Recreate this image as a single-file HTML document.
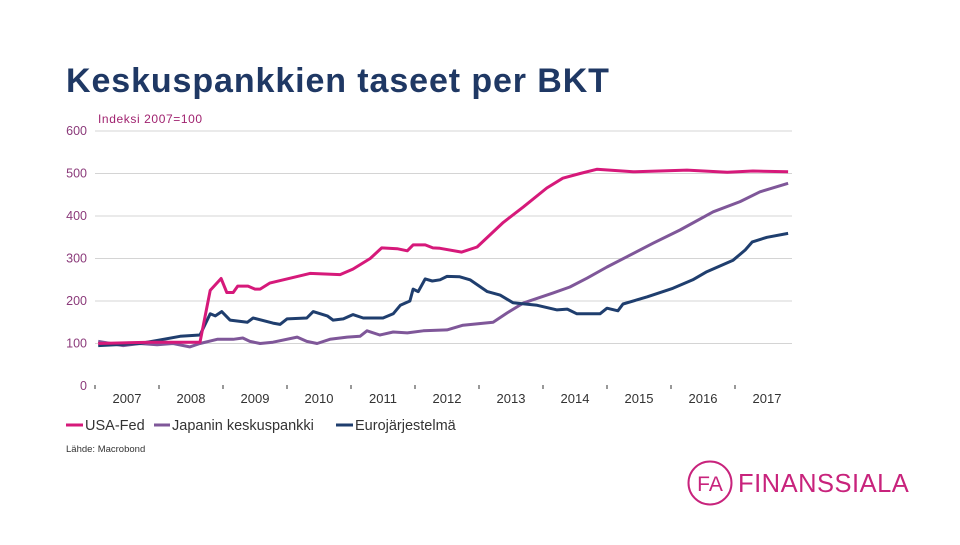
<!DOCTYPE html>
<html><head><meta charset="utf-8"><style>
body{margin:0;background:#fff;width:960px;height:540px;overflow:hidden;font-family:"Liberation Sans",sans-serif}
</style></head><body>
<svg width="960" height="540" viewBox="0 0 960 540">
<text x="66" y="92" font-size="34" font-weight="bold" fill="#1f3864" letter-spacing="0.9">Keskuspankkien taseet per BKT</text>
<text x="98" y="123" font-size="12" fill="#a0226f" letter-spacing="0.6">Indeksi 2007=100</text>
<g id="grid"></g><g id="axis"></g><g id="lines"></g>
<g>
<line x1="66" y1="425" x2="83" y2="425" stroke="#d6197a" stroke-width="3"/>
<text x="85" y="430" font-size="14.5" fill="#333">USA-Fed</text>
<line x1="154" y1="425" x2="170" y2="425" stroke="#7f5799" stroke-width="3"/>
<text x="172" y="430" font-size="14.5" fill="#333">Japanin keskuspankki</text>
<line x1="336" y1="425" x2="353" y2="425" stroke="#1f3e6e" stroke-width="3"/>
<text x="355" y="430" font-size="14.5" fill="#333">Eurojärjestelmä</text>
</g>
<text x="66" y="452" font-size="9.5" fill="#333">Lähde: Macrobond</text>
<g>
<circle cx="710" cy="483" r="21.5" fill="none" stroke="#c8237c" stroke-width="2"/>
<text x="710" y="491" font-size="21" fill="#c8237c" text-anchor="middle">FA</text>
<text x="738" y="492" font-size="25.5" fill="#c8237c" letter-spacing="0.5">FINANSSIALA</text>
</g>
</svg>
<script>
const yTicks=[0,100,200,300,400,500,600];
const years=[2007,2008,2009,2010,2011,2012,2013,2014,2015,2016,2017];
const usT=[2007.05,2007.86,2008.64,2008.80,2008.97,2009.06,2009.16,2009.23,2009.39,2009.50,2009.58,2009.73,2010.09,2010.36,2010.83,2011.03,2011.30,2011.48,2011.72,2011.88,2011.97,2012.16,2012.28,2012.39,2012.73,2012.97,2013.38,2013.69,2014.06,2014.31,2014.58,2014.84,2015.41,2016.25,2016.88,2017.28,2017.83];
const usV=[100,103,103,225,253,220,220,235,235,228,228,242,255,265,262,275,300,325,323,318,332,332,325,324,315,327,385,421,466,489,500,510,504,508,503,506,504];
const jpT=[2007.05,2007.44,2007.70,2007.97,2008.22,2008.48,2008.64,2008.91,2009.16,2009.31,2009.42,2009.58,2009.78,2010.16,2010.31,2010.47,2010.67,2010.94,2011.14,2011.25,2011.45,2011.66,2011.88,2012.13,2012.50,2012.75,2013.22,2013.44,2013.69,2014.16,2014.42,2014.69,2015.00,2015.31,2015.72,2016.14,2016.66,2017.08,2017.39,2017.83];
const jpV=[105,95,100,97,100,92,100,110,110,113,105,100,103,115,105,100,110,115,117,130,120,127,125,130,132,143,150,172,195,219,233,254,280,304,336,367,410,434,457,477];
const euT=[2007.05,2007.70,2007.97,2008.33,2008.64,2008.80,2008.88,2008.98,2009.11,2009.38,2009.47,2009.78,2009.89,2010.00,2010.31,2010.41,2010.63,2010.72,2010.88,2011.03,2011.19,2011.50,2011.66,2011.77,2011.92,2011.97,2012.05,2012.16,2012.27,2012.39,2012.50,2012.70,2012.86,2013.13,2013.33,2013.53,2013.91,2014.22,2014.38,2014.53,2014.89,2015.00,2015.17,2015.25,2015.63,2016.03,2016.34,2016.56,2016.97,2017.16,2017.27,2017.50,2017.83];
const euV=[95,100,107,117,120,170,165,175,155,150,160,148,145,158,160,175,165,155,158,168,160,160,170,190,200,228,222,252,247,250,258,257,250,222,214,196,190,179,181,170,170,183,177,193,210,230,250,269,296,320,339,350,359];
const NS='http://www.w3.org/2000/svg';
const X=t=>95+(t-2007)*64, Y=v=>386-v*0.425;
function mk(tag,attrs,parent){const e=document.createElementNS(NS,tag);for(const k in attrs)e.setAttribute(k,attrs[k]);parent.appendChild(e);return e;}
const grid=document.getElementById('grid'),axis=document.getElementById('axis'),lines=document.getElementById('lines');
yTicks.forEach(v=>{
 if(v>0){const l=mk('line',{x1:95,x2:792,y1:Y(v),y2:Y(v),stroke:'#d4d4d4','stroke-width':1},grid);
 
 }
 const t=mk('text',{x:87,y:Y(v)+4,'font-size':12.5,fill:'#8b3a7a','text-anchor':'end'},axis);t.textContent=v;
 
 
});
years.forEach(y=>{
 const m=mk('line',{x1:X(y),x2:X(y),y1:385,y2:389,stroke:'#333','stroke-width':1},axis);
 
 
 const t=mk('text',{x:X(y+0.5),y:403,'font-size':13,fill:'#333','text-anchor':'middle'},axis);t.textContent=y;
 
 
});
function series(T,V,col,name){
 const d=T.map((t,i)=>(i?'L':'M')+X(t).toFixed(1)+','+Y(V[i]).toFixed(1)).join('');
 const p=mk('path',{d:d,fill:'none',stroke:col,'stroke-width':3,'stroke-linejoin':'round'},lines);
 
 
}
series(jpT,jpV,'#7f5799','line-japan');
series(euT,euV,'#1f3e6e','line-euro');
series(usT,usV,'#d6197a','line-usa');
</script>
</body></html>
